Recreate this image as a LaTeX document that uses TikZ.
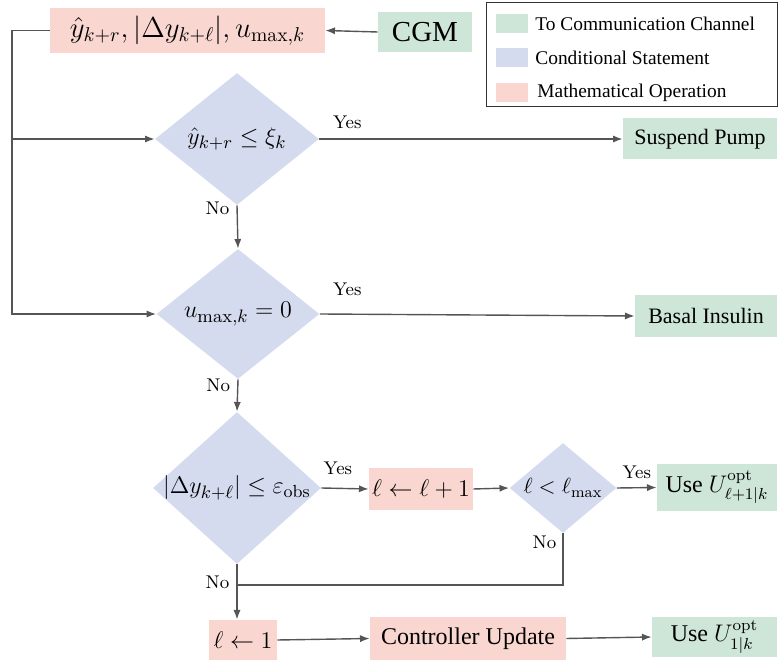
\documentclass[tikz,border=0pt]{standalone}
\usepackage{fontspec}
\newfontfamily\tnr{Liberation Serif}
\usepackage{amsmath}
\usepackage{amssymb}
\usetikzlibrary{shapes.geometric,arrows.meta,calc}

\definecolor{oppink}{RGB}{249,214,208}
\definecolor{comgreen}{RGB}{206,230,216}
\definecolor{condblue}{RGB}{213,219,238}
\definecolor{linegray}{RGB}{85,85,85}

\tikzset{
  mathop/.style={fill=oppink, inner sep=0pt, font=\fontsize{11.5}{14}\selectfont},
  comm/.style={fill=comgreen, inner sep=2pt, font=\tnr\fontsize{11}{13}\selectfont},
  cond/.style={diamond, fill=condblue, inner sep=0pt},
  condtext/.style={font=\fontsize{13}{15}\selectfont},
  lbl/.style={inner sep=1pt, font=\fontsize{9.2}{11}\selectfont},
  flow/.style={draw=linegray, line width=0.7pt, -{Latex[length=4.8pt,width=3.6pt]}},
  wire/.style={draw=linegray, line width=0.7pt},
  keybox/.style={minimum width=16pt, minimum height=9.5pt, inner sep=0pt},
  keytext/.style={anchor=west, inner sep=0pt, font=\tnr\fontsize{9.7}{11}\selectfont}
}

\begin{document}
\begin{tikzpicture}[x=0.5pt,y=-0.5pt]
\useasboundingbox (0,0) rectangle (778,662);

% legend
\node[draw=black!80, line width=0.5pt, minimum width=145.5pt, minimum height=52pt, inner sep=0pt] (legend) at (631.5,55) {};
\node[keybox, fill=comgreen] (kcom) at (512,24) {};
\node[keytext] (tcom) at (535,24) {To Communication Channel};
\node[keybox, fill=condblue] (kcond) at (512,58) {};
\node[keytext] (tcond) at (535,58) {Conditional Statement};
\node[keybox, fill=oppink] (kop) at (512,92.5) {};
\node[keytext] (top) at (537,93) {Mathematical Operation};

% measurements
\node[mathop, minimum width=137.5pt, minimum height=22.5pt, font=\fontsize{14}{16}\selectfont] (meas) at (187.5,30.5)
  {$\hat{y}_{k+r}, |\Delta y_{k+\ell}|, u_{\max,k}$};
\node[comm, minimum width=47pt, minimum height=20pt, font=\tnr\fontsize{14.5}{16}\selectfont] (cgm) at (425,32) {CGM};

% decisions
\node[cond, minimum width=82pt, minimum height=66pt, label={[condtext]center:{$\hat{y}_{k+r} \leq \xi_k$}}] (hypo) at (237,139) {};
\node[cond, minimum width=81.5pt, minimum height=65pt, label={[condtext]center:{$u_{\max,k} = 0$}}] (umax) at (238,314) {};
\node[cond, minimum width=84pt, minimum height=76pt, label={[condtext, font=\fontsize{12.5}{15}\selectfont]center:{$|\Delta y_{k+\ell}| \leq \varepsilon_{\mathrm{obs}}$}}] (obs) at (237,488) {};
\node[cond, minimum width=53.5pt, minimum height=45pt, label={[condtext, font=\fontsize{11}{13}\selectfont]center:{$\ell < \ell_{\max}$}}] (lmax) at (563,488) {};

% actions
\node[comm, minimum width=77pt, minimum height=20.5pt] (suspend) at (700,139) {Suspend Pump};
\node[comm, minimum width=71pt, minimum height=21pt] (basal) at (706,316) {Basal Insulin};
\node[mathop, minimum width=52pt, minimum height=21pt] (inc) at (421,489) {$\ell \leftarrow \ell + 1$};
\node[comm, minimum width=60pt, minimum height=23.5pt, inner sep=0pt, font=\tnr\fontsize{12}{14}\selectfont] (usel) at (717,487.5)
  {Use $U^{\mathrm{opt}}_{\ell+1|k}$};
\node[mathop, minimum width=34pt, minimum height=20pt] (reset) at (243,640) {$\ell \leftarrow 1$};
\node[mathop, minimum width=98pt, minimum height=21.5pt, font=\tnr\fontsize{12}{14}\selectfont] (ctrl) at (468,638.5) {Controller Update};
\node[comm, minimum width=62.5pt, minimum height=20pt, inner sep=0pt, font=\tnr\fontsize{12}{14}\selectfont] (useone) at (714.5,637) {Use $U^{\mathrm{opt}}_{1|k}$};

\coordinate (lft) at (12,0);
\coordinate (join) at (238,585);

% connectors
\draw[flow] (cgm.west) -- (meas.east);
\draw[flow] (meas.west) -| (lft |- umax.west) -- (umax.west);
\draw[flow] (lft |- hypo.west) -- (hypo.west);

\draw[flow] (hypo.east) -- (suspend.west) node[lbl, above=3.9pt, pos=0.092] (yes1) {Yes};
\draw[flow] (hypo.south) -- (umax.north) node[lbl, left=2.5pt, pos=0.07] (no1) {No};
\draw[flow] (umax.east) -- (basal.west) node[lbl, above=7.9pt, pos=0.087] (yes2) {Yes};
\draw[flow] (umax.south) -- (obs.north) node[lbl, left=2.5pt, pos=0.18] (no2) {No};
\draw[flow] (obs.east) -- (inc.west) node[lbl, above=5.4pt, pos=0.35] (yes3) {Yes};
\draw[flow] (inc.east) -- (lmax.west);
\draw[flow] (lmax.east) -- (usel.west) node[lbl, above=3.4pt, pos=0.5] (yes4) {Yes};
\draw[wire] (lmax.south) -- (lmax.south |- join) node[lbl, left=2pt, pos=0.17] (no4) {No} -- (join);
\draw[flow] (obs.south) -- (obs.south |- reset.north) node[lbl, left=2.5pt, pos=0.32] (no3) {No};
\draw[flow] (reset.east) -- (ctrl.west);
\draw[flow] (ctrl.east) -- (useone.west);
\end{tikzpicture}
\end{document}
